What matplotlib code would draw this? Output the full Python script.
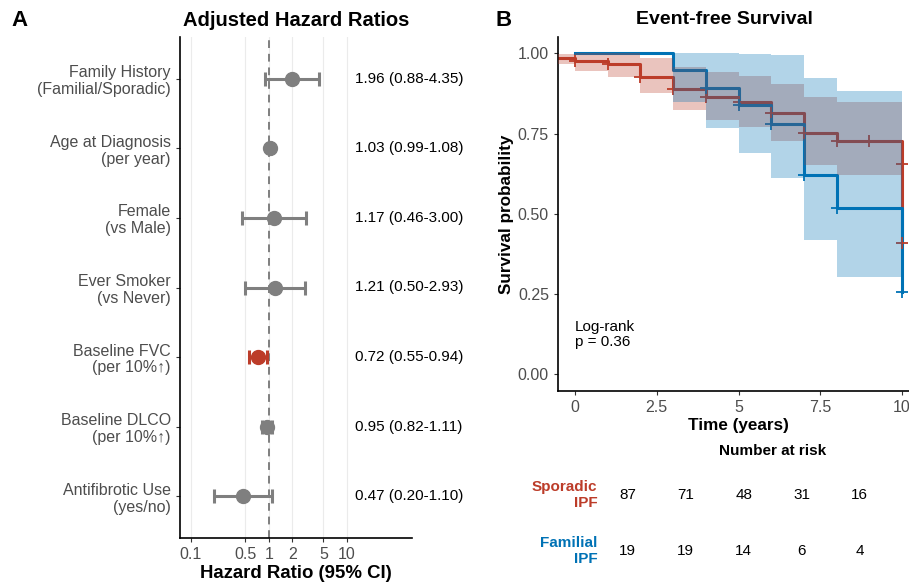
import numpy as np
import matplotlib.pyplot as plt

plt.rcParams['font.family'] = ['Liberation Sans', 'DejaVu Sans']

# ---- Panel A data: adjusted hazard ratios
labels = ["Family History\n(Familial/Sporadic)", "Age at Diagnosis\n(per year)",
          "Female\n(vs Male)", "Ever Smoker\n(vs Never)", "Baseline FVC\n(per 10%\u2191)",
          "Baseline DLCO\n(per 10%\u2191)", "Antifibrotic Use\n(yes/no)"]
hr = [1.96, 1.03, 1.17, 1.21, 0.72, 0.95, 0.47]
ci_lo = [0.88, 0.99, 0.46, 0.50, 0.55, 0.82, 0.20]
ci_hi = [4.35, 1.08, 3.00, 2.93, 0.94, 1.11, 1.10]
significant = [False, False, False, False, True, False, False]
hr_ticks = [0.1, 0.5, 1, 2, 5, 10]

# ---- Panel B data: Kaplan-Meier curves
spor_t = [-1, 0, 1, 2, 3, 4, 5, 6, 7, 8, 10]
spor_s = [0.984, 0.975, 0.967, 0.927, 0.888, 0.863, 0.847, 0.815, 0.753, 0.728, 0.41]
spor_lo = [0.967, 0.946, 0.927, 0.875, 0.823, 0.792, 0.769, 0.727, 0.652, 0.622, 0.622]
spor_hi = [0.998, 1.0, 1.0, 0.984, 0.958, 0.941, 0.929, 0.906, 0.865, 0.848, 0.848]
spor_cens_t = [0, 1, 2, 3, 4, 5, 6, 7, 8, 9, 10, 10]
spor_cens_s = [0.975, 0.967, 0.927, 0.888, 0.863, 0.847, 0.815, 0.753, 0.728, 0.728, 0.655, 0.41]

fam_t = [0, 3, 4, 5, 6, 7, 8, 10]
fam_s = [1.0, 0.948, 0.893, 0.839, 0.779, 0.621, 0.519, 0.257]
fam_lo = [1.0, 0.849, 0.766, 0.688, 0.611, 0.418, 0.304, 0.304]
fam_hi = [1.0, 1.0, 1.0, 0.998, 0.995, 0.924, 0.883, 0.883]
fam_cens_t = [4, 5, 6, 7, 8, 10]
fam_cens_s = [0.893, 0.839, 0.779, 0.621, 0.519, 0.257]

risk_groups = ["Sporadic\nIPF", "Familial\nIPF"]
risk_spor = [87, 71, 48, 31, 16]
risk_fam = [19, 19, 14, 6, 4]

RED = "#BC3C29"
BLUE = "#0072B5"
GREY = "#7F7F7F"
TXT = "#4D4D4D"

W, H = 909, 583
fig = plt.figure(figsize=(W / 100, H / 100), dpi=100)


def px_axes(l, t, r, b):
    return fig.add_axes([l / W, 1 - b / H, (r - l) / W, (b - t) / H])


# ================= Panel A =================
ax = px_axes(180, 37, 412, 538)
n = len(labels)
ypos = np.arange(n, 0, -1)
for v in hr_ticks:
    ax.axvline(v, color="#EBEBEB", lw=0.8, zorder=0)
ax.axvline(1, color=GREY, lw=1.4, ls=(0, (4, 3)), zorder=1)
for i in range(n):
    c = RED if significant[i] else GREY
    ax.errorbar(hr[i], ypos[i], xerr=[[hr[i] - ci_lo[i]], [ci_hi[i] - hr[i]]],
                fmt='o', color=c, ms=10, capsize=4.7, elinewidth=2.2, capthick=2.2, zorder=3)
    ax.text(12.7, ypos[i], f"{hr[i]:.2f} ({ci_lo[i]:.2f}-{ci_hi[i]:.2f})",
            ha='left', va='center', fontsize=11, color='black', clip_on=False)
ax.set_xscale('log')
ax.set_xlim(0.0729, 68)
ax.set_ylim(0.4, n + 0.6)
ax.set_xticks(hr_ticks)
ax.set_xticklabels([str(v) for v in hr_ticks])
ax.minorticks_off()
ax.set_yticks(ypos)
ax.set_yticklabels(labels, linespacing=1.15)
ax.tick_params(axis='both', labelsize=11.5, labelcolor=TXT, length=3, width=0.8, color='#333333')
for s in ['top', 'right']:
    ax.spines[s].set_visible(False)
for s in ['left', 'bottom']:
    ax.spines[s].set_linewidth(1.2)
ax.set_xlabel("Hazard Ratio (95% CI)", fontsize=13.4, fontweight='bold', labelpad=2)
fig.text(296 / W, 1 - 20 / H, "Adjusted Hazard Ratios", ha='center', va='center',
         fontsize=14.5, fontweight='bold')
fig.text(20 / W, 1 - 20 / H, "A", ha='center', va='center', fontsize=16, fontweight='bold')

# ================= Panel B =================
bx = px_axes(558, 37.3, 918.4, 391)
bx.step(spor_t, spor_s, where='post', color=RED, lw=2.2, zorder=2)
bx.step(fam_t, fam_s, where='post', color=BLUE, lw=2.2, zorder=2)
bx.plot(spor_cens_t, spor_cens_s, '+', color=RED, ms=9, mew=1.3, zorder=2.5)
bx.plot(fam_cens_t, fam_cens_s, '+', color=BLUE, ms=9, mew=1.3, zorder=2.5)
bx.fill_between(spor_t, spor_lo, spor_hi, step='post', color=RED, alpha=0.3, lw=0, zorder=3)
bx.fill_between(fam_t, fam_lo, fam_hi, step='post', color=BLUE, alpha=0.3, lw=0, zorder=3)
bx.set_xlim(-0.52, 10.5)
bx.set_ylim(-0.052, 1.05)
bx.set_xticks([0, 2.5, 5, 7.5, 10])
bx.set_xticklabels(["0", "2.5", "5", "7.5", "10"])
bx.set_yticks([0, 0.25, 0.5, 0.75, 1.0])
bx.set_yticklabels(["0.00", "0.25", "0.50", "0.75", "1.00"])
bx.tick_params(axis='both', labelsize=11.5, labelcolor=TXT, length=3, width=0.8, color='#333333')
for s in ['top', 'right']:
    bx.spines[s].set_visible(False)
for s in ['left', 'bottom']:
    bx.spines[s].set_linewidth(1.2)
bx.set_xlabel("Time (years)", fontsize=12.3, fontweight='bold', labelpad=2)
bx.set_ylabel("Survival probability", fontsize=12.3, fontweight='bold', labelpad=3)
bx.text(0, 0.124, "Log-rank\np = 0.36", ha='left', va='center', fontsize=11, linespacing=1.1)
fig.text(724 / W, 1 - 20 / H, "Event-free Survival", ha='center', va='center',
         fontsize=14, fontweight='bold')
fig.text(504 / W, 1 - 20 / H, "B", ha='center', va='center', fontsize=16, fontweight='bold')

# risk table
rx = px_axes(598.7, 467, 888.7, 579)
rx.set_xlim(-0.5, 4.5)
rx.set_ylim(-0.5, 1.5)
rx.axis('off')
for row, counts, name, col in [(1, risk_spor, risk_groups[0], RED), (0, risk_fam, risk_groups[1], BLUE)]:
    for j, cnt in enumerate(counts):
        rx.text(j, row, str(cnt), ha='center', va='center', fontsize=11)
    rx.text(-0.52, row, name, ha='right', va='center', fontsize=11, fontweight='bold',
            color=col, linespacing=1.1, clip_on=False)
rx.text(2.5, 1.79, "Number at risk", ha='center', va='center', fontsize=11, fontweight='bold',
        clip_on=False)

fig.savefig("out.png", dpi=100)
